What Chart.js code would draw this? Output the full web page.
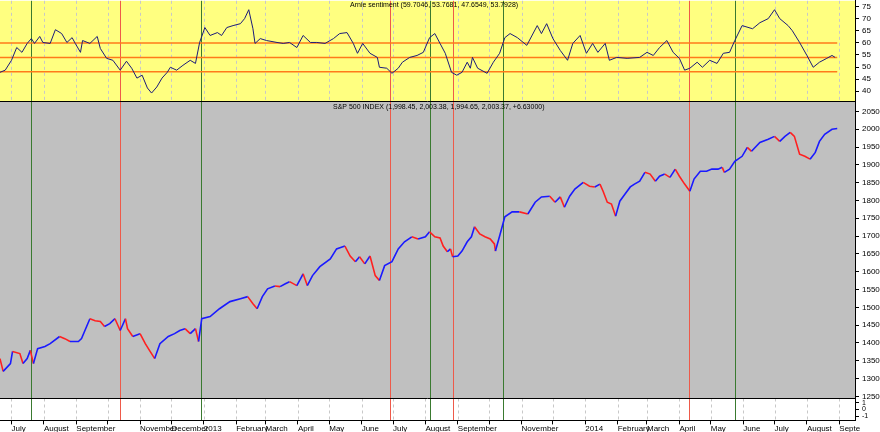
<!DOCTYPE html>
<html>
<head>
<meta charset="utf-8">
<script src="https://cdn.jsdelivr.net/npm/chart.js@4"></script>
<style>
  body { margin: 0; background: #fff; }
  #wrap { width: 880px; height: 432px; overflow: hidden; }
  #inner { width: 880px; height: 441px; margin-top: -7px; }
</style>
</head>
<body>
<div id="wrap"><div id="inner"><canvas id="chart"></canvas></div></div>
<script>
// day offsets are counted from 2012-06-20
const startDate = Date.UTC(2012, 5, 20);

const sentDays = [0,5,11,16,21,26,30,33,38,41,48,53,59,64,69,72,77,79,86,93,96,102,108,115,121,126,131,136,141,145,150,155,160,163,169,175,182,187,191,196,201,208,212,217,223,230,234,238,242,244,249,255,265,271,277,284,290,297,303,311,319,325,332,338,342,347,354,361,363,370,375,381,385,392,399,405,411,416,421,
  426,432,437,442,447,450,452,457,466,472,478,483,488,495,504,514,518,523,529,536,543,548,555,561,567,572,579,583,590,600,612,619,625,631,638,644,650,655,660,667,672,679,686,692,698,703,710,720,727,735,741,746,754,758,765,772,778,784,791,796,799];
const sentValues = [47.8,48.7,52.8,58.1,56.1,59.8,61.8,59.8,62.7,60.2,59.8,65.5,63.9,60.2,62.2,59.8,56.1,61.0,59.8,62.7,57.7,53.6,52.8,48.7,52.4,49.5,45.4,46.6,41.3,39.2,41.7,45.4,47.8,49.9,48.7,50.7,52.8,51.5,60.2,66.4,63.1,64.3,63.1,66.4,67.2,68.0,70.1,73.8,65.9,59.8,61.8,61.0,60.2,59.8,60.2,58.1,63.1,60.2,60.2,59.8,61.8,63.9,64.3,59.8,55.7,59.8,55.7,54.0,49.9,49.5,47.4,49.5,52.0,54.0,54.8,56.1,62.2,63.9,59.8,
  55.7,47.8,46.6,47.8,52.0,49.5,54.0,49.5,47.4,52.0,55.7,62.2,63.9,62.2,59.0,67.2,63.9,68.0,61.8,56.9,52.8,59.8,63.1,55.7,59.8,56.1,59.8,52.8,54.0,53.6,54.0,56.1,54.8,58.1,61.0,56.1,53.6,48.7,49.5,52.0,49.9,52.8,51.5,55.7,56.1,61.0,67.2,65.9,68.4,70.1,73.8,70.1,67.2,65.1,60.2,54.8,49.9,52.0,53.6,54.8,54.0];
const sentLevels = [60, 54, 48];

const spxDays = [0,3,10,12,19,22,26,29,32,36,43,48,57,62,67,75,78,86,91,96,100,105,110,115,120,122,127,134,139,143,148,153,161,167,172,177,182,187,190,193,201,210,220,230,237,242,246,251,256,263,268,273,277,284,290,294,299,306,316,322,330,335,340,344,349,354,359,363,368,375,381,387,394,400,407,411,416,421,424,428,431,433,438,442,447,451,454,459,464,469,473,474,478,483,490,497,505,512,518,526,531,536,540,545,550,558,564,569,574,577,581,585,589,593,598,603,607,612,617,622,627,631,636,641,646,650,655,660,664,670,676,681,687,691,693,698,703,710,715,719,727,735,741,746,751,756,760,765,770,775,780,784,789,796,801];
const spxValues = [1356,1320,1342,1376,1370,1342,1356,1379,1342,1384,1390,1398,1418,1412,1404,1404,1412,1468,1462,1460,1446,1454,1468,1435,1468,1440,1418,1426,1398,1379,1356,1398,1418,1426,1435,1440,1426,1440,1404,1468,1474,1496,1516,1524,1530,1510,1496,1530,1552,1560,1558,1566,1572,1561,1594,1561,1589,1614,1636,1664,1672,1644,1628,1642,1622,1644,1589,1575,1617,1628,1664,1684,1698,1692,1698,1712,1698,1695,1672,1656,1664,1642,1644,1658,1684,1698,1726,1706,1698,1692,1678,1658,1700,1754,1768,1768,1762,1795,1810,1812,1795,1810,1781,1812,1832,1851,1840,1838,1846,1826,1795,1790,1756,1798,1818,1838,1846,1854,1879,1874,1854,1868,1874,1865,1888,1868,1846,1826,1860,1882,1882,1888,1888,1893,1879,1888,1910,1924,1949,1938,1963,1972,1980,1966,1980,1991,1980,1930,1924,1916,1935,1966,1986,2000,2002];

const eventDays = [30, 115, 192, 373, 411, 433, 481, 659, 703];
const eventColors = ['#3a7a30','#ee5a4a','#3a7a30','#ee5a4a','#3a7a30','#ee5a4a','#3a7a30','#ee5a4a','#3a7a30'];

const monthLabels = ['July','August','September','','November','December','2013','February','March','April','May','June',
  'July','August','September','','November','','2014','February','March','April','May','June','July','August','Septe'];
const firstMonth = [2012, 6];

const sentTitle = 'Arnie sentiment (59.7046, 53.7681, 47.6549, 53.7928)';
const spxTitle = 'S&P 500 INDEX (1,998.45, 2,003.38, 1,994.65, 2,003.37, +6.63000)';

const monthDays = monthLabels.map((_, i) => {
  const d = Date.UTC(firstMonth[0], firstMonth[1] + i, 1);
  return Math.round((d - startDate) / 86400000);
});

const pts = (xs, ys) => xs.map((x, i) => ({ x: x, y: ys[i] }));

const panelsPlugin = {
  id: 'panels',
  beforeDatasetsDraw(chart) {
    const { ctx, chartArea, scales } = chart;
    const L = chartArea.left, R = chartArea.right;
    const fills = [['ySent', '#ffff80'], ['yPrice', '#c0c0c0'], ['yBot', '#ffffff']];
    fills.forEach(([id, c]) => {
      const s = scales[id];
      ctx.fillStyle = c;
      ctx.fillRect(L, s.top, R - L, s.bottom - s.top);
    });
    // dashed month lines in top and bottom panels
    ctx.save();
    ctx.strokeStyle = '#c8c8c8';
    ctx.lineWidth = 1;
    ctx.setLineDash([3, 3]);
    monthDays.forEach(d => {
      const x = Math.round(scales.x.getPixelForValue(d)) + 0.5;
      if (x < L || x > R) return;
      ['ySent', 'yBot'].forEach(id => {
        const s = scales[id];
        ctx.beginPath(); ctx.moveTo(x, s.top); ctx.lineTo(x, s.bottom); ctx.stroke();
      });
    });
    ctx.restore();
    // event lines
    const top = scales.ySent.top, bot = scales.yBot.bottom;
    eventDays.forEach((d, i) => {
      const x = Math.round(scales.x.getPixelForValue(d)) + 0.5;
      ctx.strokeStyle = eventColors[i];
      ctx.lineWidth = 1;
      ctx.beginPath(); ctx.moveTo(x, top); ctx.lineTo(x, bot); ctx.stroke();
    });
    // separators
    ctx.strokeStyle = '#000';
    ctx.lineWidth = 1;
    [scales.ySent.bottom, scales.yPrice.bottom, scales.yBot.bottom].forEach(y => {
      const yy = Math.round(y) + 0.5;
      ctx.beginPath(); ctx.moveTo(L, yy); ctx.lineTo(R, yy); ctx.stroke();
    });
  },
  afterDatasetsDraw(chart) {
    const { ctx, scales } = chart;
    ctx.save();
    ctx.fillStyle = '#000';
    ctx.font = '7px "Liberation Sans", Arial, sans-serif';
    ctx.textBaseline = 'top';
    ctx.fillText(sentTitle, 350, scales.ySent.top + 1);
    ctx.fillText(spxTitle, 333, scales.yPrice.top + 2);
    ctx.restore();
  }
};

const fitWidth = s => { s.width = 25; };
const tickFont = { family: '"Liberation Sans", Arial, sans-serif', size: 8 };
const yTicks = { font: tickFont, color: '#000', padding: 3, autoSkip: false, callback: v => String(v) };

new Chart(document.getElementById('chart'), {
  type: 'line',
  data: {
    datasets: [
      {
        data: pts(sentDays, sentValues), yAxisID: 'ySent',
        borderColor: '#1c1c7a', borderWidth: 1, pointRadius: 0, tension: 0
      },
      ...sentLevels.map(v => ({
        data: [{ x: 0, y: v }, { x: 801, y: v }], yAxisID: 'ySent',
        borderColor: '#ff7a1a', borderWidth: 1.5, pointRadius: 0
      })),
      {
        data: pts(spxDays, spxValues), yAxisID: 'yPrice',
        borderColor: '#1a1aff', borderWidth: 1.6, pointRadius: 0, tension: 0,
        segment: { borderColor: c => c.p1.parsed.y >= c.p0.parsed.y ? '#1a1aff' : '#ff2020' }
      }
    ]
  },
  options: {
    animation: false,
    responsive: true,
    maintainAspectRatio: false,
    layout: { padding: 0 },
    plugins: { legend: { display: false }, tooltip: { enabled: false } },
    scales: {
      x: {
        type: 'linear', min: 0, max: 818,
        afterBuildTicks: s => { s.ticks = monthDays.map(v => ({ value: v })); },
        ticks: {
          autoSkip: false, maxRotation: 0, align: 'start', padding: 0,
          font: tickFont, color: '#000',
          callback: (v, i) => monthLabels[i]
        },
        grid: { drawOnChartArea: false, tickLength: 4, color: '#000' },
        border: { color: '#000' }
      },
      ySent: {
        position: 'right', stack: 'p', stackWeight: 101, offset: false,
        min: 35.7, max: 77.5,
        afterBuildTicks: s => { s.ticks = [40,45,50,55,60,65,70,75].map(v => ({ value: v })); },
        ticks: yTicks,
        grid: { drawOnChartArea: false, tickLength: 4, color: '#000' },
        border: { color: '#000' },
        afterFit: fitWidth
      },
      yPrice: {
        position: 'right', stack: 'p', stackWeight: 298, offset: false,
        min: 1244, max: 2078,
        afterBuildTicks: s => {
          const t = []; for (let v = 1250; v <= 2050; v += 50) t.push({ value: v }); s.ticks = t;
        },
        ticks: yTicks,
        grid: { drawOnChartArea: false, tickLength: 4, color: '#000' },
        border: { color: '#000' },
        afterFit: fitWidth
      },
      yBot: {
        position: 'right', stack: 'p', stackWeight: 22, offset: false,
        min: -1.6, max: 1.6,
        afterBuildTicks: s => { s.ticks = [-1, 0, 1].map(v => ({ value: v })); },
        ticks: { ...yTicks, font: { ...tickFont, size: 7 } },
        grid: { drawOnChartArea: false, tickLength: 4, color: '#000' },
        border: { color: '#000' },
        afterFit: fitWidth
      }
    }
  },
  plugins: [panelsPlugin]
});
</script>
</body>
</html>
